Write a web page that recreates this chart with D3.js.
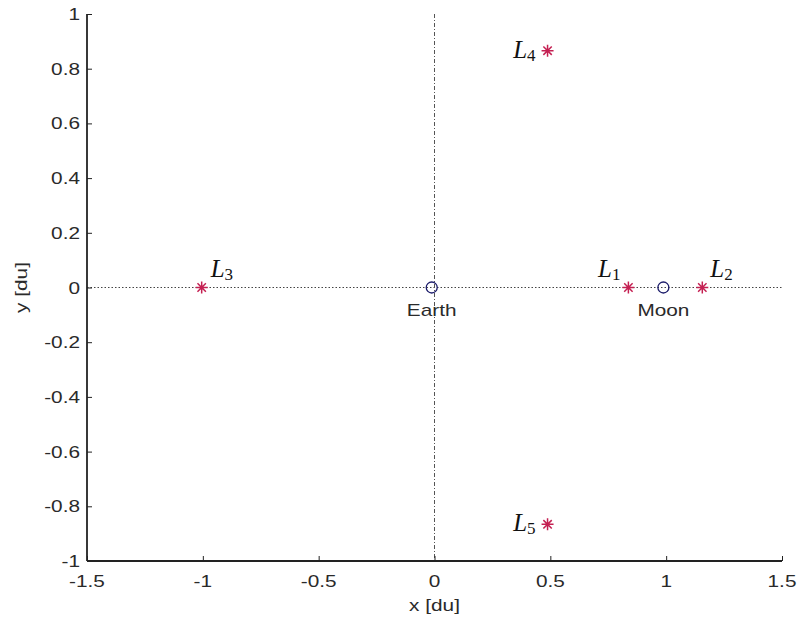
<!DOCTYPE html>
<html>
<head>
<meta charset="utf-8">
<script src="https://cdn.jsdelivr.net/npm/d3@7"></script>
<style>
  html, body { margin: 0; padding: 0; background: #fff; }
  svg { display: block; }
  .tick-label { font-family: "Liberation Sans", Arial, sans-serif; font-size: 16px; fill: #2a2a2a; }
  .axis-title { font-family: "Liberation Sans", Arial, sans-serif; font-size: 16px; fill: #2a2a2a; }
  .body-label { font-family: "Liberation Sans", Arial, sans-serif; font-size: 16px; fill: #2a2a2a; }
  .lp-label { font-family: "Liberation Serif", "Times New Roman", serif; fill: #111; }
</style>
</head>
<body>
<svg id="chart" width="798" height="625"></svg>
<script>
// Axis ticks (dimensionless units)
const xTicks = [-1.5, -1, -0.5, 0, 0.5, 1, 1.5];
const yTicks = [-1, -0.8, -0.6, -0.4, -0.2, 0, 0.2, 0.4, 0.6, 0.8, 1];

// Lagrange points of the Earth–Moon system (rotating frame)
const lpNames = ["1", "2", "3", "4", "5"];
const lpX = [0.837, 1.156, -1.005, 0.488, 0.488];
const lpY = [0, 0, 0, 0.866, -0.866];

// Primary bodies
const bodyNames = ["Earth", "Moon"];
const bodyX = [-0.012, 0.988];
const bodyY = [0, 0];

const W = 798, H = 625;
const margin = { left: 87, right: 16, top: 14, bottom: 64 };
const svg = d3.select("#chart");

const x = d3.scaleLinear().domain([-1.5, 1.5]).range([margin.left, W - margin.right]);
const y = d3.scaleLinear().domain([-1, 1]).range([H - margin.bottom, margin.top]);

const stretch = 1.3;   // wide glyph look of the tick font
const axisColor = "#222";

// zero reference lines
svg.append("line")
  .attr("x1", x(-1.5)).attr("x2", x(1.5)).attr("y1", y(0)).attr("y2", y(0))
  .attr("stroke", "#444").attr("stroke-width", 1).attr("stroke-dasharray", "1.5,2");
svg.append("line")
  .attr("x1", x(0)).attr("x2", x(0)).attr("y1", y(1)).attr("y2", y(-1))
  .attr("stroke", "#555").attr("stroke-width", 1).attr("stroke-dasharray", "4,2,1,2");

// axes with inward ticks
const xAxis = d3.axisBottom(x).tickValues(xTicks).tickSize(-5).tickFormat(() => "");
const yAxis = d3.axisLeft(y).tickValues(yTicks).tickSize(-5).tickFormat(() => "");
const gx = svg.append("g").attr("transform", `translate(0,${y(-1)})`).call(xAxis);
const gy = svg.append("g").attr("transform", `translate(${x(-1.5)},0)`).call(yAxis);
[gx, gy].forEach(g => {
  g.select(".domain").attr("stroke", axisColor).attr("stroke-width", 1.8);
  g.selectAll(".tick line").attr("stroke", axisColor).attr("stroke-width", 1);
});
gx.select(".domain").attr("d", `M${x(-1.5)},0H${x(1.5)}`);
gy.select(".domain").attr("d", `M0,${y(1)}V${y(-1)}`);

// tick labels
svg.selectAll(".xtl").data(xTicks).enter().append("text")
  .attr("class", "tick-label")
  .attr("text-anchor", "middle")
  .attr("transform", d => `translate(${x(d)},${y(-1) + 26}) scale(${stretch},1)`)
  .text(d => String(d));
svg.selectAll(".ytl").data(yTicks).enter().append("text")
  .attr("class", "tick-label")
  .attr("text-anchor", "end")
  .attr("transform", d => `translate(${x(-1.5) - 7},${y(d) + 6}) scale(${stretch},1)`)
  .text(d => String(d));

// axis titles
svg.append("text").attr("class", "axis-title").attr("text-anchor", "middle")
  .attr("transform", `translate(${x(0)},${H - 14}) scale(${stretch},1)`)
  .text("x [du]");
svg.append("text").attr("class", "axis-title").attr("text-anchor", "middle")
  .attr("transform", `translate(27,${y(0)}) rotate(-90) scale(${stretch},1)`)
  .text("y [du]");

// primary bodies: open circles with names below
const bodies = bodyNames.map((n, i) => ({ n, x: bodyX[i], y: bodyY[i] }));
svg.selectAll(".body").data(bodies).enter().append("circle")
  .attr("cx", d => x(d.x)).attr("cy", d => y(d.y)).attr("r", 5.5)
  .attr("fill", "none").attr("stroke", "#1c1c6a").attr("stroke-width", 1.3);
svg.selectAll(".blabel").data(bodies).enter().append("text")
  .attr("class", "body-label").attr("text-anchor", "middle")
  .attr("transform", d => `translate(${x(d.x)},${y(d.y) + 28}) scale(${stretch},1)`)
  .text(d => d.n);

// Lagrange points: asterisk markers
const star = r => {
  const a = r * 0.7;
  return `M${-r},0H${r}M0,${-r}V${r}M${-a},${-a}L${a},${a}M${-a},${a}L${a},${-a}`;
};
const lps = lpNames.map((n, i) => ({ n, x: lpX[i], y: lpY[i] }));
svg.selectAll(".lp").data(lps).enter().append("path")
  .attr("transform", d => `translate(${x(d.x)},${y(d.y)})`)
  .attr("d", star(6))
  .attr("fill", "none").attr("stroke", "#c42052").attr("stroke-width", 1.5);

// label placement per point: [dx, dy, anchor]
const lpOffset = {
  "1": [-8, -11, "end"],
  "2": [8, -11, "start"],
  "3": [9, -11, "start"],
  "4": [-12, 7, "end"],
  "5": [-12, 7, "end"]
};
const lt = svg.selectAll(".lpl").data(lps).enter().append("text")
  .attr("class", "lp-label")
  .attr("x", d => x(d.x) + lpOffset[d.n][0])
  .attr("y", d => y(d.y) + lpOffset[d.n][1])
  .attr("text-anchor", d => lpOffset[d.n][2]);
lt.append("tspan").attr("font-style", "italic").attr("font-size", 25).text("L");
lt.append("tspan").attr("font-size", 17).attr("dy", 3).text(d => d.n);
</script>
</body>
</html>
